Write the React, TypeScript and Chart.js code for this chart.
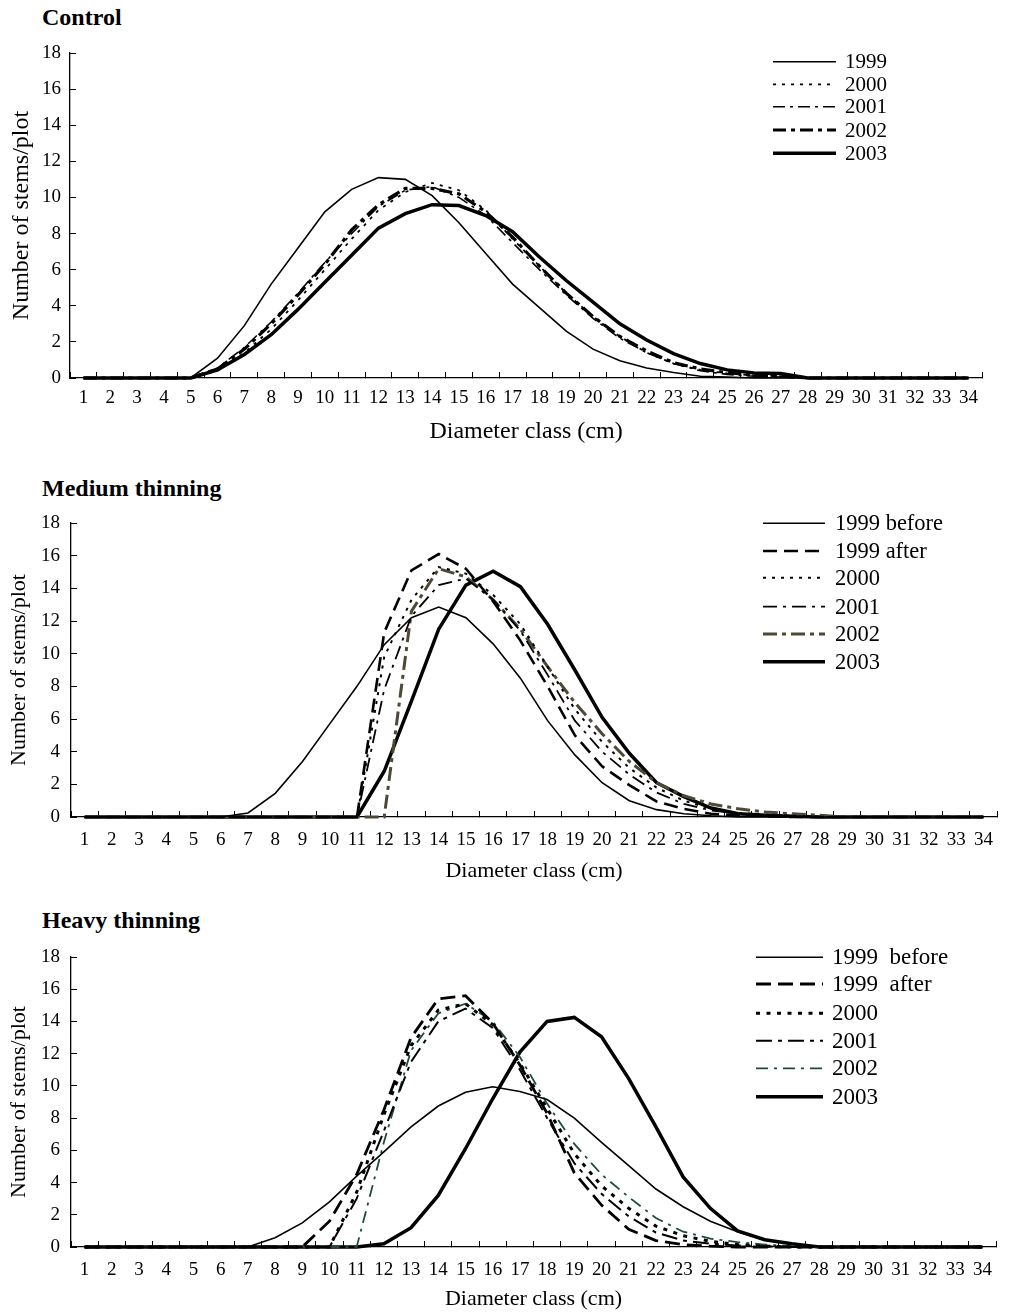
import React, { useEffect, useRef } from "react";
import { Chart, registerables } from "chart.js";

Chart.register(...registerables);

// ---------- DATA ----------
const diameterClasses = [
  "1", "2", "3", "4", "5", "6", "7", "8", "9", "10", "11", "12", "13", "14", "15", "16", "17",
  "18", "19", "20", "21", "22", "23", "24", "25", "26", "27", "28", "29", "30", "31", "32", "33", "34",
];

// Control
const controlLabels = ["1999", "2000", "2001", "2002", "2003"];
const control1999 = [0, 0, 0, 0, 0, 1.1, 2.9, 5.2, 7.2, 9.2, 10.45, 11.1, 11.0, 10.1, 8.6, 6.9, 5.2, 3.9, 2.6, 1.6, 0.95, 0.55, 0.3, 0.1, 0.05, 0, 0, 0, 0, 0, 0, 0, 0, 0];
const control2000 = [0, 0, 0, 0, 0, 0.4, 1.4, 2.7, 4.3, 6.0, 7.7, 9.3, 10.3, 10.8, 10.4, 9.3, 7.7, 6.2, 4.7, 3.4, 2.3, 1.4, 0.8, 0.45, 0.25, 0.15, 0.1, 0, 0, 0, 0, 0, 0, 0];
const control2001 = [0, 0, 0, 0, 0, 0.55, 1.7, 3.1, 4.7, 6.4, 8.0, 9.5, 10.4, 10.6, 10.0, 9.0, 7.5, 6.0, 4.6, 3.3, 2.2, 1.4, 0.8, 0.4, 0.2, 0.1, 0.05, 0, 0, 0, 0, 0, 0, 0];
const control2002 = [0, 0, 0, 0, 0, 0.5, 1.6, 3.0, 4.6, 6.3, 8.2, 9.6, 10.5, 10.5, 10.2, 9.2, 7.8, 6.2, 4.7, 3.4, 2.3, 1.5, 0.85, 0.5, 0.3, 0.15, 0.1, 0, 0, 0, 0, 0, 0, 0];
const control2003 = [0, 0, 0, 0, 0, 0.45, 1.3, 2.4, 3.8, 5.3, 6.8, 8.3, 9.1, 9.6, 9.55, 9.0, 8.1, 6.7, 5.4, 4.2, 3.0, 2.1, 1.35, 0.8, 0.45, 0.28, 0.25, 0, 0, 0, 0, 0, 0, 0];

// Medium thinning
const mediumLabels = ["1999 before", "1999 after", "2000", "2001", "2002", "2003"];
const medium1999Before = [0, 0, 0, 0, 0, 0, 0.25, 1.45, 3.4, 5.7, 8.0, 10.55, 12.2, 12.85, 12.2, 10.6, 8.5, 5.9, 3.8, 2.1, 1.0, 0.45, 0.2, 0.08, 0, 0, 0, 0, 0, 0, 0, 0, 0, 0];
const medium1999After = [0, 0, 0, 0, 0, 0, 0, 0, 0, 0, 0, 11.3, 15.1, 16.1, 15.2, 13.2, 10.8, 8.0, 5.0, 3.1, 1.95, 0.95, 0.5, 0.2, 0.1, 0.05, 0, 0, 0, 0, 0, 0, 0, 0];
const medium2000 = [0, 0, 0, 0, 0, 0, 0, 0, 0, 0, 0, 9.8, 13.3, 15.3, 14.9, 13.6, 11.8, 9.2, 6.6, 4.6, 3.0, 1.8, 1.0, 0.5, 0.25, 0.15, 0.08, 0, 0, 0, 0, 0, 0, 0];
const medium2001 = [0, 0, 0, 0, 0, 0, 0, 0, 0, 0, 0, 7.8, 12.3, 14.2, 14.6, 13.3, 11.4, 8.7, 5.9, 4.0, 2.6, 1.5, 0.8, 0.4, 0.2, 0.1, 0.05, 0, 0, 0, 0, 0, 0, 0];
const medium2002 = [0, 0, 0, 0, 0, 0, 0, 0, 0, 0, 0, 0, 12.6, 15.2, 14.7, 13.3, 11.5, 9.2, 7.0, 5.1, 3.4, 2.1, 1.3, 0.8, 0.5, 0.3, 0.2, 0.1, 0, 0, 0, 0, 0, 0];
const medium2003 = [0, 0, 0, 0, 0, 0, 0, 0, 0, 0, 0, 2.8, 7.1, 11.5, 14.2, 15.05, 14.1, 11.8, 9.0, 6.1, 3.9, 2.1, 1.25, 0.55, 0.2, 0.1, 0.05, 0, 0, 0, 0, 0, 0, 0];

// Heavy thinning
const heavyLabels = ["1999  before", "1999  after", "2000", "2001", "2002", "2003"];
const heavy1999Before = [0, 0, 0, 0, 0, 0, 0, 0.58, 1.5, 2.8, 4.4, 5.9, 7.45, 8.75, 9.6, 9.95, 9.65, 9.15, 8.0, 6.5, 5.05, 3.6, 2.5, 1.6, 0.95, 0.45, 0.2, 0, 0, 0, 0, 0, 0, 0];
const heavy1999After = [0, 0, 0, 0, 0, 0, 0, 0, 0, 1.6, 4.5, 8.5, 13.0, 15.4, 15.6, 13.9, 11.3, 8.3, 4.6, 2.6, 1.1, 0.4, 0.15, 0.05, 0, 0, 0, 0, 0, 0, 0, 0, 0, 0];
const heavy2000 = [0, 0, 0, 0, 0, 0, 0, 0, 0, 0, 3.4, 8.2, 12.5, 14.7, 15.1, 13.8, 11.4, 8.6, 5.8, 3.8, 2.4, 1.3, 0.7, 0.35, 0.15, 0.05, 0, 0, 0, 0, 0, 0, 0, 0];
const heavy2001 = [0, 0, 0, 0, 0, 0, 0, 0, 0, 0, 3.0, 7.2, 11.5, 14.0, 14.8, 13.6, 11.0, 8.0, 5.2, 3.3, 1.9, 0.9, 0.4, 0.2, 0.1, 0.05, 0, 0, 0, 0, 0, 0, 0, 0];
const heavy2002 = [0, 0, 0, 0, 0, 0, 0, 0, 0, 0, 0, 6.5, 12.2, 14.5, 15.1, 14.0, 11.8, 8.9, 6.4, 4.5, 3.1, 1.8, 0.95, 0.52, 0.3, 0.15, 0.05, 0, 0, 0, 0, 0, 0, 0];
const heavy2003 = [0, 0, 0, 0, 0, 0, 0, 0, 0, 0, 0, 0.2, 1.2, 3.2, 6.1, 9.2, 12.1, 14.0, 14.25, 13.05, 10.45, 7.45, 4.35, 2.4, 1.0, 0.45, 0.2, 0, 0, 0, 0, 0, 0, 0];

const yMin = 0;
const yMax = 18;
const yStep = 2;

// ---------- STYLES / LAYOUT ----------
const SERIF = "'Liberation Serif', 'Times New Roman', serif";

type SeriesStyle = { width: number; dash: number[]; color: string };
type PanelCfg = {
  title: string;
  titleTop: number;
  labels: string[];
  values: number[][];
  styles: SeriesStyle[];
  canvasTop: number;
  canvasHeight: number;
  areaLeft: number;
  areaRight: number;
  areaTop: number;
  areaBottom: number;
  axisTitleFont: number;
  xTitlePad: number;
  yTitlePad: number;
  yTickPad: number;
  xTickPad: number;
  legend: { x1: number; x2: number; textX: number; rows: number[]; font: number };
};

const panels: PanelCfg[] = [
  {
    title: "Control",
    titleTop: 5,
    labels: controlLabels,
    values: [control1999, control2000, control2001, control2002, control2003],
    styles: [
      { width: 1.6, dash: [], color: "#000" },
      { width: 1.8, dash: [3, 6], color: "#000" },
      { width: 1.6, dash: [12, 5, 3, 5], color: "#000" },
      { width: 3.2, dash: [13, 5, 4, 5], color: "#000" },
      { width: 3.5, dash: [], color: "#000" },
    ],
    canvasTop: 0,
    canvasHeight: 452,
    areaLeft: 70,
    areaRight: 982,
    areaTop: 53,
    areaBottom: 378,
    axisTitleFont: 24,
    xTitlePad: 5.6,
    yTitlePad: 7.6,
    yTickPad: 15,
    xTickPad: 14.6,
    legend: { x1: 773, x2: 836, textX: 845, rows: [61.7, 84.3, 106.7, 130, 153.3], font: 21 },
  },
  {
    title: "Medium thinning",
    titleTop: 476,
    labels: mediumLabels,
    values: [medium1999Before, medium1999After, medium2000, medium2001, medium2002, medium2003],
    styles: [
      { width: 1.6, dash: [], color: "#000" },
      { width: 2.6, dash: [14, 7], color: "#000" },
      { width: 2, dash: [3, 6], color: "#000" },
      { width: 1.8, dash: [14, 6, 3, 6], color: "#000" },
      { width: 3, dash: [14, 5, 4, 5], color: "#4d4936" },
      { width: 3.5, dash: [], color: "#000" },
    ],
    canvasTop: 452,
    canvasHeight: 434,
    areaLeft: 71,
    areaRight: 997,
    areaTop: 523,
    areaBottom: 817,
    axisTitleFont: 22,
    xTitlePad: 1.8,
    yTitlePad: 6,
    yTickPad: 17,
    xTickPad: 17.6,
    legend: { x1: 763, x2: 825, textX: 835, rows: [523.3, 551, 577.7, 606.7, 634, 661.7], font: 22.5 },
  },
  {
    title: "Heavy thinning",
    titleTop: 908,
    labels: heavyLabels,
    values: [heavy1999Before, heavy1999After, heavy2000, heavy2001, heavy2002, heavy2003],
    styles: [
      { width: 1.6, dash: [], color: "#000" },
      { width: 2.8, dash: [15, 7], color: "#000" },
      { width: 3, dash: [4, 6.5], color: "#000" },
      { width: 2, dash: [16, 6, 4, 6], color: "#000" },
      { width: 1.8, dash: [12, 6, 3, 6], color: "#1c4d3a" },
      { width: 3.5, dash: [], color: "#000" },
    ],
    canvasTop: 884,
    canvasHeight: 428,
    areaLeft: 71,
    areaRight: 996,
    areaTop: 957,
    areaBottom: 1247,
    axisTitleFont: 22,
    xTitlePad: 0,
    yTitlePad: 6,
    yTickPad: 17,
    xTickPad: 17.6,
    legend: { x1: 756, x2: 823, textX: 832, rows: [957.3, 984, 1013.3, 1040.7, 1068.3, 1096.7], font: 23 },
  },
];

const PAGE_W = 1011;

function makeLegendPlugin(p: PanelCfg) {
  return {
    id: "lineLegend",
    afterDraw(chart: any) {
      const ctx = chart.ctx as CanvasRenderingContext2D;
      ctx.save();
      ctx.font = `${p.legend.font}px ${SERIF}`;
      ctx.fillStyle = "#000";
      ctx.textBaseline = "middle";
      ctx.textAlign = "left";
      chart.data.datasets.forEach((ds: any, i: number) => {
        const y = p.legend.rows[i] - p.canvasTop;
        ctx.save();
        ctx.strokeStyle = ds.borderColor;
        ctx.lineWidth = ds.borderWidth;
        ctx.setLineDash(ds.borderDash || []);
        ctx.lineCap = "butt";
        ctx.beginPath();
        ctx.moveTo(p.legend.x1, y);
        ctx.lineTo(p.legend.x2, y);
        ctx.stroke();
        ctx.restore();
        ctx.fillText(ds.label, p.legend.textX, y + 1);
      });
      ctx.restore();
    },
  };
}

function Panel({ p }: { p: PanelCfg }) {
  const ref = useRef<HTMLCanvasElement>(null);
  useEffect(() => {
    const canvas = ref.current;
    if (!canvas) return;
    const tickFont = { family: SERIF, size: 19 };
    const titleFont = { family: SERIF, size: p.axisTitleFont };
    const chart = new Chart(canvas, {
      type: "line",
      data: {
        labels: diameterClasses,
        datasets: p.labels.map((label, i) => ({
          label,
          data: p.values[i],
          borderColor: p.styles[i].color,
          backgroundColor: p.styles[i].color,
          borderWidth: p.styles[i].width,
          borderDash: p.styles[i].dash,
          pointRadius: 0,
          pointHoverRadius: 0,
          tension: 0,
          fill: false,
          clip: false as any,
        })),
      },
      options: {
        responsive: false,
        animation: false,
        devicePixelRatio: 1,
        events: [],
        layout: {
          padding: {
            top: p.areaTop - p.canvasTop,
            right: PAGE_W - p.areaRight,
            bottom: 0,
            left: 0,
          },
        },
        plugins: {
          legend: { display: false },
          tooltip: { enabled: false },
          title: { display: false },
        },
        scales: {
          x: {
            type: "category",
            offset: true,
            grid: {
              display: true,
              drawOnChartArea: false,
              drawTicks: true,
              tickLength: -6,
              offset: true,
              color: "#000",
              lineWidth: 1,
            },
            border: { display: true, color: "#000", width: 1.3 },
            ticks: {
              color: "#000",
              font: tickFont,
              padding: p.xTickPad,
              autoSkip: false,
              maxRotation: 0,
              minRotation: 0,
            },
            title: {
              display: true,
              text: "Diameter class (cm)",
              color: "#000",
              font: titleFont,
              padding: { top: 0, bottom: p.xTitlePad },
            },
            afterFit: (scale: any) => {
              scale.height = p.canvasTop + p.canvasHeight - p.areaBottom;
            },
          },
          y: {
            type: "linear",
            min: yMin,
            max: yMax,
            grid: {
              display: true,
              drawOnChartArea: false,
              drawTicks: true,
              tickLength: -6,
              color: "#000",
              lineWidth: 1,
            },
            border: { display: true, color: "#000", width: 1.3 },
            ticks: {
              stepSize: yStep,
              color: "#000",
              font: tickFont,
              padding: p.yTickPad,
            },
            title: {
              display: true,
              text: "Number of stems/plot",
              color: "#000",
              font: titleFont,
              padding: { top: p.yTitlePad, bottom: 0 },
            },
            afterFit: (scale: any) => {
              scale.width = p.areaLeft;
            },
          },
        },
      } as any,
      plugins: [makeLegendPlugin(p)],
    });
    let alive = true;
    const fonts = (document as any).fonts;
    if (fonts && fonts.load) {
      Promise.all([
        fonts.load(`19px "Liberation Serif"`),
        fonts.load(`bold 24px "Liberation Serif"`),
      ])
        .then(() => {
          if (alive) chart.update();
        })
        .catch(() => {});
    }
    return () => {
      alive = false;
      chart.destroy();
    };
  }, []);
  return (
    <>
      <div
        style={{
          position: "absolute",
          left: 42,
          top: p.titleTop,
          font: `bold 24px ${SERIF}`,
          lineHeight: "24px",
          whiteSpace: "nowrap",
          color: "#000",
        }}
      >
        {p.title}
      </div>
      <canvas
        ref={ref}
        width={PAGE_W}
        height={p.canvasHeight}
        style={{
          position: "absolute",
          left: 0,
          top: p.canvasTop,
          width: PAGE_W,
          height: p.canvasHeight,
          display: "block",
        }}
      />
    </>
  );
}

export default function App() {
  return (
    <div
      style={{
        position: "absolute",
        left: 0,
        top: 0,
        width: PAGE_W,
        height: 1312,
        background: "#fff",
        overflow: "hidden",
      }}
    >
      {panels.map((p) => (
        <Panel key={p.title} p={p} />
      ))}
    </div>
  );
}
